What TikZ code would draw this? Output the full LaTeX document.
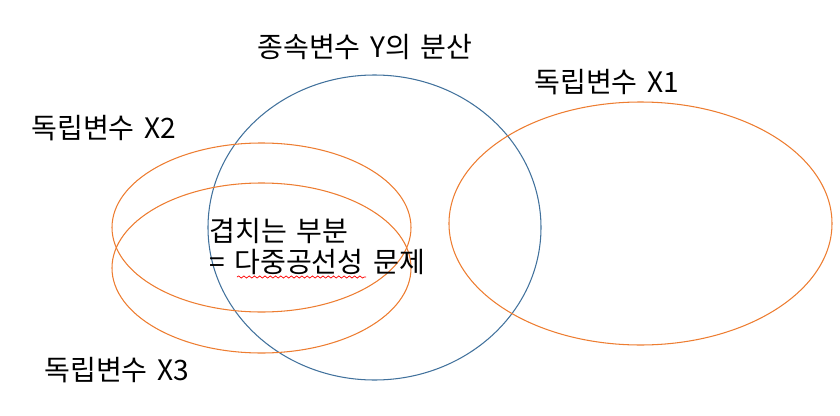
\documentclass[tikz,border=0pt]{standalone}
\usepackage{fontspec}
\setmainfont[WordSpace=1.5]{Noto Sans CJK KR}
\usepackage{xcolor}
\usetikzlibrary{decorations.pathmorphing}

\definecolor{ybluec}{HTML}{41719C}
\definecolor{xorangec}{HTML}{ED7D31}

\begin{document}
\begin{tikzpicture}[
    x=0.02cm, y=-0.02cm,
    yset/.style={draw=ybluec, line width=0.6pt},
    xset/.style={draw=xorangec, line width=0.6pt},
    lbl/.style={inner sep=0pt, anchor=west, font=\fontsize{16}{19}\selectfont}
]
\useasboundingbox (0,0) rectangle (840,416);

% variance circles
\draw[yset] (374.5,227.5) ellipse [x radius=166.5, y radius=152.5];
\draw[xset] (640.5,223.5) ellipse [x radius=191.5, y radius=121.5];
\draw[xset] (261.5,227.5) ellipse [x radius=149.5, y radius=84.5];
\draw[xset] (261.5,268) ellipse [x radius=149.5, y radius=85];

% labels
\node[lbl] (ylbl) at (257,47) {종속변수 Y의 분산};
\node[lbl] (x1lbl) at (534,82) {독립변수 X1};
\node[lbl] (x2lbl) at (31,128) {독립변수 X2};
\node[lbl] (x3lbl) at (44,370) {독립변수 X3};
\node[lbl] (overlap) at (209,231) {겹치는 부분};
\node[lbl] (problem) at (209,262) {= 다중공선성 문제};

% spell-check underline
\draw[red, line width=0.4pt, decorate, decoration={snake, amplitude=0.6pt, segment length=3pt}]
    (237,277) -- (366,277);

\end{tikzpicture}
\end{document}
